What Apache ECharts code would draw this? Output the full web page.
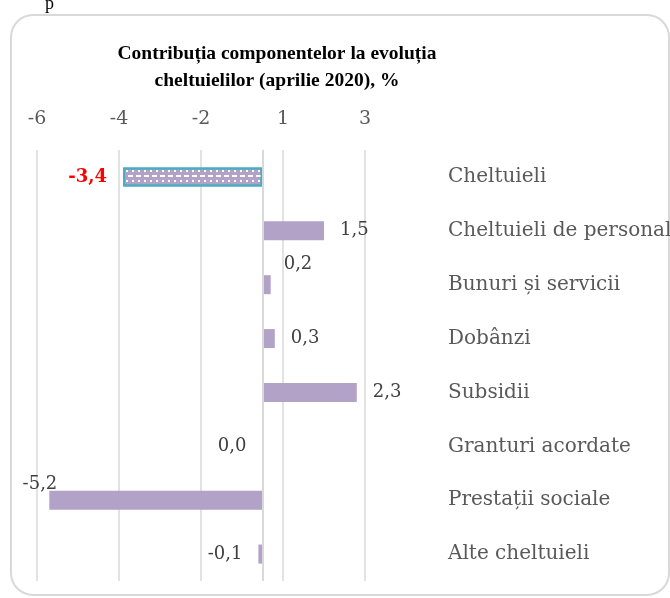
<!DOCTYPE html>
<html>
<head>
<meta charset="utf-8">
<script src="https://cdn.jsdelivr.net/npm/echarts@6/dist/echarts.min.js"></script>
<style>
  html, body { margin: 0; padding: 0; background: #fff; }
  #main { width: 670px; height: 598px; }
</style>
</head>
<body>
<div id="main"></div>
<script>
var categories = ['Cheltuieli', 'Cheltuieli de personal', 'Bunuri și servicii', 'Dobânzi',
    'Subsidii', 'Granturi acordate', 'Prestații sociale', 'Alte cheltuieli'];
var values = [-3.4, 1.5, 0.2, 0.3, 2.3, 0.0, -5.2, -0.1];
// axis ticks sit on half units, the original chart rounds them for display
var axisMin = -5.5;
var axisMax = 2.5;
var axisStep = 2;

var myChart = echarts.init(document.getElementById('main'));

var serif = 'DejaVu Serif';
var barColor = '#b3a2c7';

function fmt(v) {
    return v.toFixed(1).replace('.', ',');
}

// label tweaks (some labels were moved by hand)
function labelFor(i, v) {
    var lab = {
        show: true,
        position: v > 0 ? 'right' : 'left',
        distance: 16,
        color: '#404040',
        fontFamily: serif,
        fontSize: 18
    };
    if (i === 0) {
        lab.color = '#ff0000';
        lab.fontWeight = 'bold';
        lab.fontSize = 18;
    }
    if (i === 2) {
        lab.distance = 13;
        lab.offset = [0, -20];
    }
    if (i === 6) {
        lab.distance = 0;
        lab.offset = [8, -16];
    }
    return lab;
}

var seriesData = values.map(function (v, i) {
    var item = { value: v, label: labelFor(i, v) };
    if (i === 0) {
        item.itemStyle = {
            color: barColor,
            borderColor: '#4bacc6',
            borderWidth: 2,
            decal: {
                symbol: 'rect',
                color: '#ffffff',
                dashArrayX: [[5, 3], [2, 4]],
                dashArrayY: [2, 3],
                symbolSize: 1,
                rotation: 0
            }
        };
    }
    return item;
});

var option = {
    animation: false,
    backgroundColor: '#fff',
    title: {
        text: 'Contribuția componentelor la evoluția\ncheltuielilor (aprilie 2020), %',
        left: 272,
        textAlign: 'center',
        top: 35,
        textStyle: {
            fontFamily: 'Liberation Serif',
            fontWeight: 'bold',
            fontSize: 19.5,
            lineHeight: 27,
            color: '#000'
        }
    },
    graphic: [
        {
            type: 'rect',
            shape: { x: 11, y: 15, width: 658, height: 580, r: 22 },
            style: { fill: 'none', stroke: '#d9d9d9', lineWidth: 2 },
            silent: true
        },
        {
            type: 'text',
            x: 45,
            y: -5,
            style: { text: 'p', font: '18px "Liberation Serif"', fill: '#000' },
            silent: true
        }
    ],
    grid: {
        left: 37,
        right: 305,
        top: 150,
        bottom: 17,
        containLabel: false,
        outerBoundsMode: 'none'
    },
    xAxis: {
        type: 'value',
        position: 'top',
        min: axisMin,
        max: axisMax,
        interval: axisStep,
        axisLine: { show: false },
        axisTick: { show: false },
        splitLine: { show: true, lineStyle: { color: '#d9d9d9', width: 1.5 } },
        axisLabel: {
            margin: 21,
            color: '#595959',
            fontFamily: serif,
            fontSize: 19,
            formatter: function (v) {
                var r = Math.sign(v) * Math.round(Math.abs(v));
                return String(r);
            }
        }
    },
    yAxis: {
        type: 'category',
        data: categories,
        inverse: true,
        position: 'right',
        axisLine: { show: false },
        axisTick: { show: false },
        axisLabel: {
            margin: 83,
            color: '#595959',
            fontFamily: serif,
            fontSize: 20
        }
    },
    series: [
        {
            type: 'bar',
            barWidth: 19,
            data: seriesData,
            itemStyle: { color: barColor },
            label: {
                formatter: function (p) { return fmt(p.value); }
            },
            markLine: {
                silent: true,
                symbol: 'none',
                label: { show: false },
                lineStyle: { color: '#d9d9d9', width: 2, type: 'solid' },
                data: [{ xAxis: 0 }]
            }
        }
    ]
};

myChart.setOption(option);
</script>
</body>
</html>
